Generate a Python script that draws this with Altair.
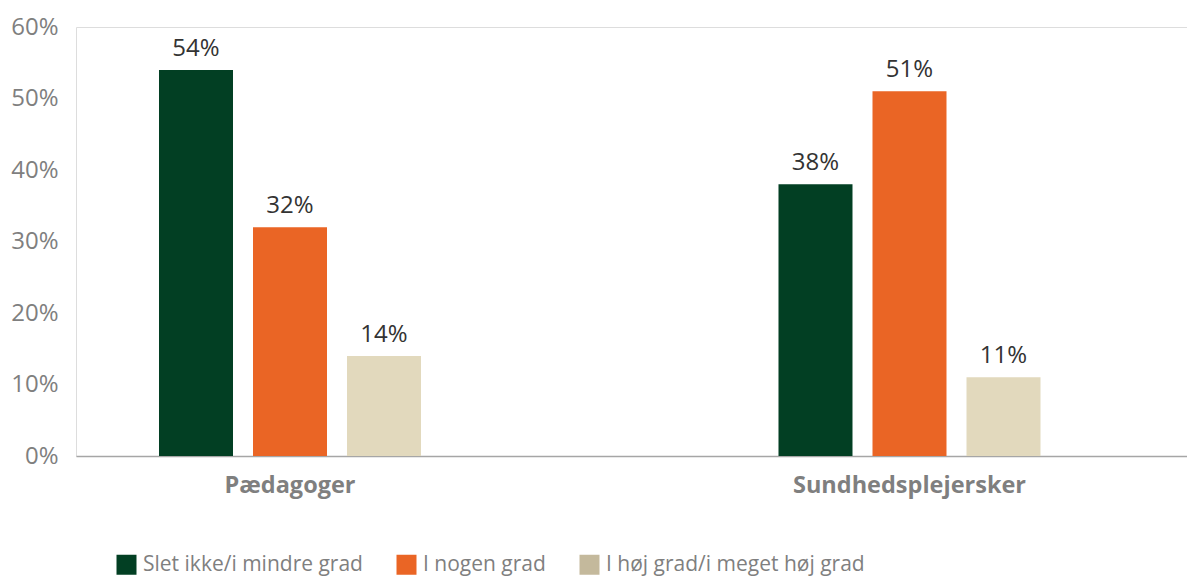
import altair as alt
import pandas as pd

groups = ["Pædagoger", "Sundhedsplejersker"]
series = ["Slet ikke/i mindre grad", "I nogen grad", "I høj grad/i meget høj grad"]
values_paedagoger = [54, 32, 14]
values_sundhed = [38, 51, 11]
y_ticks = [0, 10, 20, 30, 40, 50, 60]

bar_colors = ["#023f23", "#ea6525", "#e2d9bd"]
legend_colors = ["#023f23", "#ea6525", "#c4b99c"]

rows = []
for g, vals in zip(groups, [values_paedagoger, values_sundhed]):
    for s, v in zip(series, vals):
        rows.append({"group": g, "series": s, "fillcat": s, "value": v, "label": f"{v}%"})
df = pd.DataFrame(rows)

FONT = "Open Sans"

x_enc = alt.X(
    "group:N",
    sort=groups,
    scale=alt.Scale(paddingInner=0.3543, paddingOuter=0.07385, align=0.153),
    axis=alt.Axis(
        title=None,
        labelAngle=0,
        labelFontSize=23.5,
        labelFontWeight="bold",
        labelColor="#7f7f7f",
        labelFont=FONT,
        labelPadding=17,
        labelLimit=500,
        ticks=False,
        domainColor="#a6a6a6",
        domainWidth=1.5,
    ),
)
xoff_enc = alt.XOffset(
    "series:N",
    sort=series,
    scale=alt.Scale(paddingInner=0.2128, paddingOuter=0.734),
)
y_enc = alt.Y(
    "value:Q",
    scale=alt.Scale(domain=[0, 60], nice=False),
    axis=alt.Axis(
        title=None,
        values=y_ticks,
        labelExpr="datum.value + '%'",
        labelFontSize=24,
        labelColor="#7f7f7f",
        labelFont=FONT,
        labelPadding=18,
        domain=False,
        ticks=False,
        grid=False,
    ),
)

bars = alt.Chart(df).mark_bar().encode(
    x=x_enc,
    xOffset=xoff_enc,
    y=y_enc,
    fill=alt.Fill(
        "fillcat:N",
        sort=series,
        scale=alt.Scale(range=bar_colors),
        legend=None,
    ),
)

legend_layer = alt.Chart(df).mark_square(size=1, opacity=0, filled=True).encode(
    x=x_enc,
    xOffset=xoff_enc,
    y=y_enc,
    color=alt.Color(
        "series:N",
        sort=series,
        scale=alt.Scale(domain=series, range=legend_colors),
        legend=alt.Legend(
            title=None,
            orient="none",
            direction="horizontal",
            legendX=40,
            legendY=527,
            symbolType="square",
            symbolSize=400,
            symbolStrokeWidth=0,
            symbolOpacity=1,
            labelFontSize=21,
            labelFont=FONT,
            labelColor="#7f7f7f",
            labelOffset=6,
            columnPadding=33,
            padding=0,
            labelLimit=500,
        ),
    ),
)

labels = alt.Chart(df).mark_text(
    baseline="bottom", dy=-9, fontSize=24, font=FONT, color="#333333"
).encode(
    x=x_enc,
    xOffset=xoff_enc,
    y=y_enc,
    text="label:N",
)

chart = (
    alt.layer(bars, labels, legend_layer)
    .properties(
        width=1111,
        height=429,
        padding={"left": 68, "top": 19, "right": 0, "bottom": 122},
        autosize=alt.AutoSizeParams(type="none"),
    )
    .configure_view(stroke=None)
    .configure(font=FONT)
)

chart.save("out.html", embed_options={"renderer": "svg", "actions": False})
